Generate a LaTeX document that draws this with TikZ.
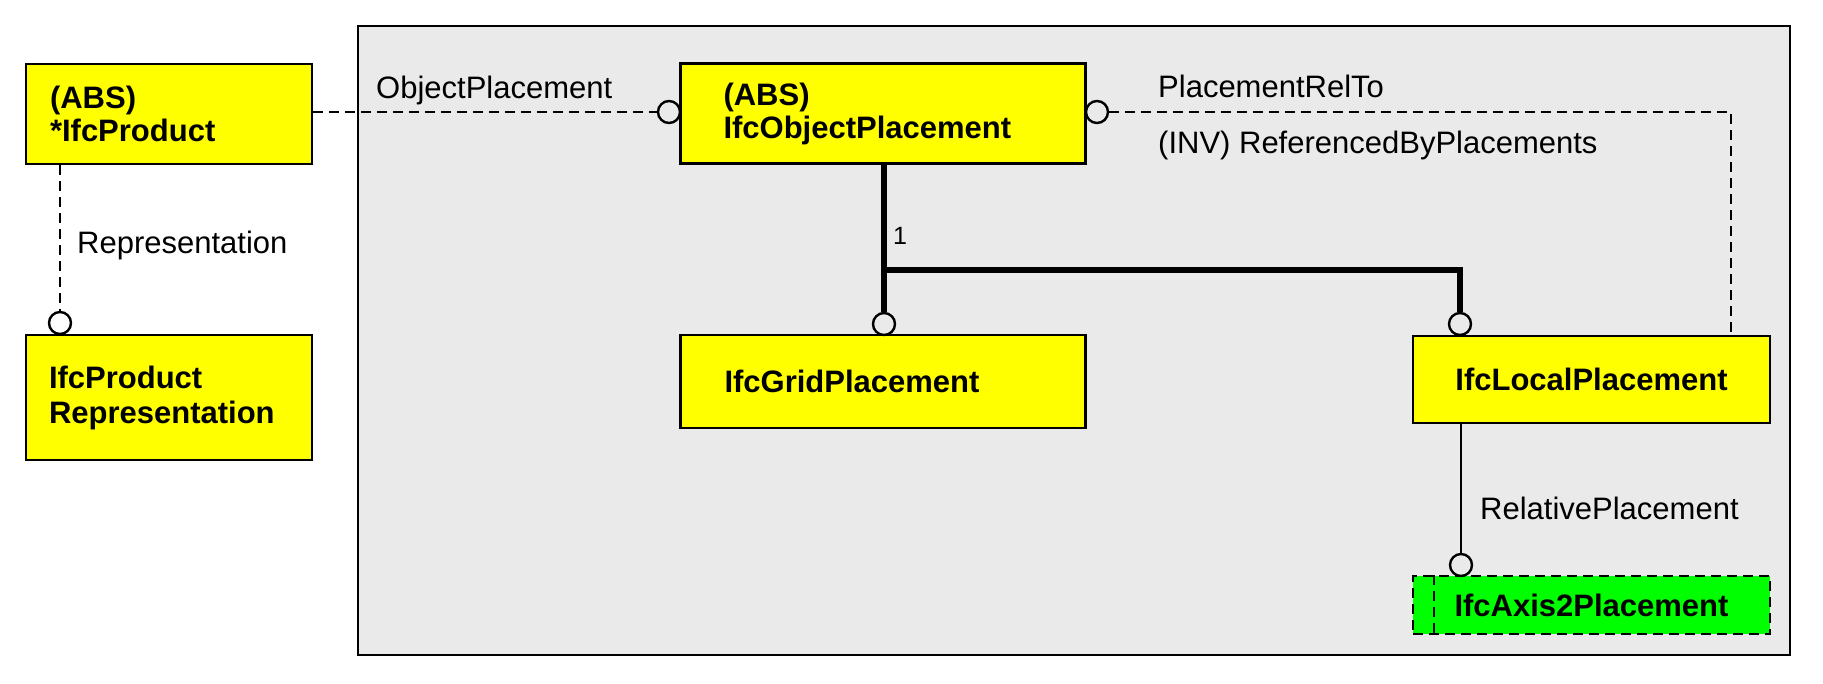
\documentclass[tikz,border=0pt]{standalone}
\usepackage{fontspec}
\setmainfont{Liberation Sans}
\definecolor{panelgray}{RGB}{234,234,234}
\definecolor{ifcyellow}{RGB}{255,255,0}
\definecolor{ifcgreen}{RGB}{0,255,0}
\tikzset{
  entity/.style={draw=black, line width=2.6pt, fill=ifcyellow, inner ysep=0pt,
    font=\fontsize{31}{33}\selectfont\bfseries},
  leftbox/.style={align=left},
  selectbox/.style={entity, fill=ifcgreen, dash pattern=on 10pt off 6pt},
  lbl/.style={inner sep=0pt, anchor=west, font=\fontsize{31}{35}\selectfont},
  circ/.style={circle, draw=black, line width=2.4pt, minimum size=22pt, inner sep=0pt, fill=panelgray},
  dconn/.style={draw=black, line width=2.2pt, dash pattern=on 10pt off 6pt},
  sconn/.style={draw=black, line width=2.2pt},
  tconn/.style={draw=black, line width=6.5pt, line join=miter},
}
\begin{document}
\begin{tikzpicture}[x=1pt,y=-1pt]
\useasboundingbox (0,0) rectangle (1823,683);
% panel
\draw[line width=2.6pt, fill=panelgray] (358,26) rectangle (1790,655);

% entities
\node[entity, leftbox, minimum width=286pt, minimum height=100pt, text width=238pt, inner xsep=24pt] (prod) at (169,114) {(ABS)\\{*}IfcProduct};
\node[entity, leftbox, minimum width=286pt, minimum height=125pt, text width=240pt, inner xsep=23pt, font=\fontsize{31}{35}\selectfont\bfseries] (rep) at (169,397.5) {IfcProduct\\Representation};
\node[entity, leftbox, minimum width=405pt, minimum height=100pt, text width=319pt, inner xsep=43pt] (objp) at (883,113.5) {(ABS)\\IfcObjectPlacement};
\node[entity, leftbox, minimum width=405pt, minimum height=93pt, text width=317pt, inner xsep=44pt] (grid) at (883,381.5) {IfcGridPlacement};
\node[entity, minimum width=357pt, minimum height=87pt] (local) at (1591.5,379.5) {IfcLocalPlacement};
\node[selectbox, minimum width=357pt, minimum height=58pt] (axis) at (1591.5,605) {IfcAxis2Placement};
\draw[line width=2.2pt, dash pattern=on 10pt off 6pt] ([xshift=22pt]axis.north west) -- ([xshift=22pt]axis.south west);

% circles
\node[circ, fill=white] (c2) at (60,323) {};
\node[circ] (c1) at (669,112) {};
\node[circ] (c3) at (884,324) {};
\node[circ] (c4) at (1460,324) {};
\node[circ] (c5) at (1097,112) {};
\node[circ] (c6) at (1461,565) {};

% connectors
\coordinate (j) at (884,270);
\coordinate (k) at (1731,112);
\draw[dconn] (prod.east |- c1) -- (c1.west);
\draw[dconn] (c2 |- prod.south) -- (c2.north);
\draw[tconn] (objp.south -| c3) -- (c3.north);
\draw[tconn] (c3 |- j) -| (c4.north);
\draw[dconn] (c5.east) -- (k) -- (k |- local.north);
\draw[sconn] (c6 |- local.south) -- (c6.north);

% labels
\node[lbl] (lobj) at (376,90) {ObjectPlacement};
\node[lbl] (lrep) at (77,245) {Representation};
\node[lbl, font=\fontsize{25}{28}\selectfont] (lone) at (893,236) {1};
\node[lbl] (lrel) at (1158,86) {PlacementRelTo};
\node[lbl] (linv) at (1158,145) {(INV) ReferencedByPlacements};
\node[lbl] (lrelp) at (1480,508) {RelativePlacement};
\end{tikzpicture}
\end{document}
